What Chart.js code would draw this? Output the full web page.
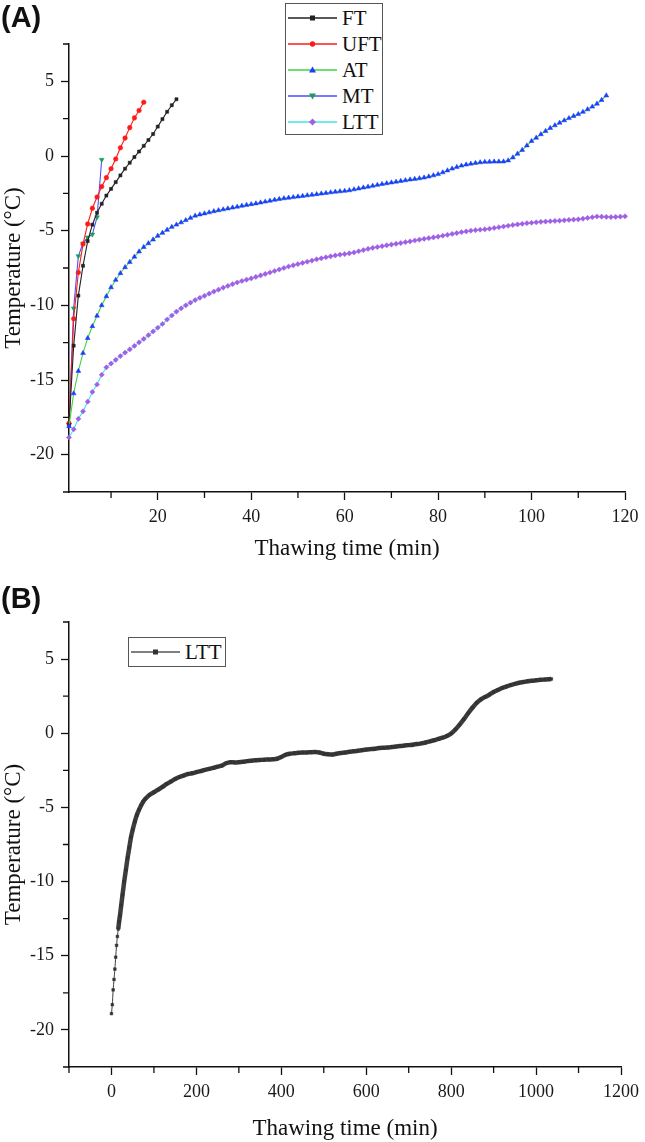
<!DOCTYPE html>
<html><head><meta charset="utf-8">
<script src="https://cdn.jsdelivr.net/npm/chart.js@4.4.1/dist/chart.umd.min.js"></script>
<style>
html,body{margin:0;padding:0;background:#fff;}
#wrap{position:relative;width:645px;height:1142px;overflow:hidden;background:#fff;}
.panel{position:absolute;left:0;}
.plabel{position:absolute;left:1px;font-family:'Liberation Sans',Arial,sans-serif;font-weight:bold;font-size:29px;line-height:1;color:#111;}
.legend{position:absolute;border:1px solid #555;background:#fff;font-family:'Liberation Serif','Times New Roman',serif;font-size:21px;color:#111;box-sizing:border-box;}
.legend .row{position:absolute;left:0;height:26px;display:flex;align-items:center;white-space:nowrap;}
.legend svg{display:block;margin-left:2px;margin-right:5px;}
</style>
</head>
<body>
<div id="wrap">
  <div class="panel" style="top:0;width:645px;height:570px;"><canvas id="cA" width="645" height="570"></canvas></div>
  <div class="panel" style="top:570px;width:645px;height:572px;"><canvas id="cB" width="645" height="572"></canvas></div>
  <div class="plabel" style="top:3px;">(A)</div>
  <div class="plabel" style="top:584px;">(B)</div>
  <div class="legend" id="legA" style="left:285px;top:3px;width:98px;height:132px;"></div>
  <div class="legend" id="legB" style="left:128px;top:637px;width:98px;height:30px;"></div>
</div>
<script>
// ---------------- DATA ----------------
// Panel A: temperatures sampled once per minute, starting at minute 1
const ftTemp  = [-18.0,-12.7,-9.35,-7.35,-5.7,-4.6,-3.8,-3.2,-2.65,-2.2,-1.75,-1.3,-0.85,-0.45,-0.07,0.3,0.68,1.07,1.47,1.97,2.47,2.96,3.4,3.8];
const uftTemp = [-17.9,-10.9,-7.8,-5.9,-4.55,-3.5,-2.75,-2.05,-1.45,-0.85,-0.2,0.55,1.2,1.9,2.55,3.05,3.6];
const atTemp  = [-18.1,-15.9,-14.4,-13.2,-12.2,-11.4,-10.7,-10.0,-9.4,-8.8,
  -8.3,-7.85,-7.45,-7.1,-6.75,-6.4,-6.1,-5.85,-5.6,-5.35,
  -5.15,-4.95,-4.75,-4.6,-4.45,-4.3,-4.15,-4.0,-3.92,-3.85,
  -3.78,-3.7,-3.64,-3.58,-3.52,-3.46,-3.4,-3.34,-3.28,-3.23,
  -3.18,-3.12,-3.06,-3.0,-2.94,-2.89,-2.84,-2.8,-2.76,-2.72,
  -2.68,-2.64,-2.6,-2.56,-2.52,-2.48,-2.44,-2.4,-2.37,-2.34,
  -2.3,-2.24,-2.18,-2.12,-2.06,-2.0,-1.94,-1.88,-1.83,-1.78,
  -1.73,-1.68,-1.63,-1.58,-1.54,-1.5,-1.45,-1.38,-1.3,-1.22,
  -1.1,-0.97,-0.85,-0.74,-0.65,-0.58,-0.52,-0.47,-0.43,-0.4,
  -0.39,-0.38,-0.38,-0.37,-0.3,-0.1,0.15,0.4,0.7,1.0,
  1.22,1.45,1.67,1.87,2.05,2.22,2.38,2.53,2.67,2.8,
  2.95,3.12,3.3,3.5,3.75,4.05];
const mtTemp  = [-18.0,-10.2,-6.7,-5.85,-5.45,-5.25,-4.1,-0.25];
const lttTemp = [-18.85,-18.3,-17.6,-17.1,-16.45,-15.8,-15.3,-14.65,-14.15,-13.9,
  -13.65,-13.4,-13.17,-12.95,-12.72,-12.48,-12.25,-12.0,-11.75,-11.5,
  -11.25,-10.95,-10.68,-10.42,-10.2,-10.0,-9.82,-9.65,-9.5,-9.36,
  -9.22,-9.08,-8.95,-8.82,-8.7,-8.58,-8.47,-8.37,-8.28,-8.2,
  -8.1,-8.0,-7.9,-7.8,-7.7,-7.6,-7.5,-7.4,-7.32,-7.24,
  -7.16,-7.08,-7.0,-6.92,-6.85,-6.78,-6.72,-6.66,-6.61,-6.57,
  -6.52,-6.46,-6.38,-6.3,-6.22,-6.15,-6.1,-6.04,-5.98,-5.93,
  -5.88,-5.83,-5.77,-5.72,-5.66,-5.6,-5.55,-5.5,-5.45,-5.4,
  -5.34,-5.28,-5.22,-5.16,-5.1,-5.05,-5.0,-4.97,-4.94,-4.91,
  -4.87,-4.82,-4.77,-4.72,-4.67,-4.62,-4.58,-4.54,-4.5,-4.47,
  -4.44,-4.41,-4.39,-4.37,-4.35,-4.33,-4.31,-4.28,-4.26,-4.24,
  -4.2,-4.15,-4.1,-4.05,-4.06,-4.08,-4.09,-4.08,-4.06,-4.04];

// Panel B: long LTT run
const lttLongTime = [0,2,4,6,8,10,12,14,16,18,20,23,26,30,34,38,42,46,50,55,60,65,70,75,80,90,100,110,120,130,140,150,160,170,180,190,200,210,220,230,240,250,260,270,280,290,300,310,320,330,340,350,360,370,380,390,400,410,420,430,440,450,460,470,480,490,500,510,520,530,540,550,560,570,580,590,600,610,620,630,640,650,660,670,680,690,700,710,720,730,740,750,760,770,780,790,800,810,820,830,840,850,860,870,880,890,900,910,920,930,940,950,960,970,980,990,1000,1010,1020,1030,1036];
const lttLongTemp = [-18.9,-18.3,-17.3,-16.6,-15.9,-15.1,-14.3,-13.7,-13.2,-12.7,-12.3,-11.6,-10.9,-10.0,-9.2,-8.4,-7.7,-7.0,-6.5,-5.95,-5.5,-5.15,-4.85,-4.6,-4.42,-4.15,-3.98,-3.8,-3.62,-3.42,-3.25,-3.08,-2.95,-2.85,-2.75,-2.7,-2.62,-2.55,-2.47,-2.4,-2.33,-2.25,-2.18,-2.02,-1.95,-1.97,-1.95,-1.92,-1.88,-1.85,-1.82,-1.8,-1.78,-1.77,-1.75,-1.72,-1.6,-1.45,-1.38,-1.35,-1.32,-1.3,-1.3,-1.28,-1.27,-1.3,-1.38,-1.42,-1.44,-1.38,-1.33,-1.3,-1.25,-1.22,-1.18,-1.14,-1.1,-1.07,-1.04,-1.0,-0.98,-0.96,-0.93,-0.9,-0.86,-0.83,-0.8,-0.77,-0.73,-0.68,-0.62,-0.55,-0.47,-0.38,-0.3,-0.18,-0.02,0.25,0.58,0.95,1.35,1.72,2.05,2.28,2.45,2.6,2.78,2.92,3.05,3.15,3.25,3.33,3.4,3.45,3.5,3.54,3.57,3.6,3.62,3.64,3.66];

// Tick values
const yTicks = [5,0,-5,-10,-15,-20];
const yMinorTicks = [7.5,2.5,-2.5,-7.5,-12.5,-17.5,-22.5];
const xTicksA = [20,40,60,80,100,120];
const xMinorTicksA = [10,30,50,70,90,110];
const xTicksB = [0,200,400,600,800,1000,1200];
const xMinorTicksB = [-100,100,300,500,700,900,1100];

// ---------------- HELPERS ----------------
const SERIF = "'Liberation Serif','Times New Roman',serif";
const perMinute = arr => arr.map((v, i) => ({x: i + 1, y: v}));
const paired = (xs, ys) => xs.map((x, i) => ({x: x, y: ys[i]}));

const minorTickPlugin = {
  id: 'minorTicks',
  afterDraw(chart, args, opts) {
    const ctx = chart.ctx, xs = chart.scales.x, ys = chart.scales.y;
    ctx.save();
    ctx.strokeStyle = '#111';
    ctx.lineWidth = 1.3;
    ctx.beginPath();
    (opts.x || []).forEach(v => {
      const px = xs.getPixelForValue(v);
      ctx.moveTo(px, xs.top); ctx.lineTo(px, xs.top + opts.len);
    });
    (opts.y || []).forEach(v => {
      const py = ys.getPixelForValue(v);
      ctx.moveTo(ys.right, py); ctx.lineTo(ys.right - opts.len, py);
    });
    ctx.stroke();
    ctx.restore();
  }
};

function axisX(min, max, ticks, height, titlePad) {
  return {
    type: 'linear', min: min, max: max,
    afterBuildTicks: s => { s.ticks = ticks.map(v => ({value: v})); },
    afterFit: s => { s.height = height; },
    border: {display: true, color: '#111', width: 1.5},
    grid: {display: true, drawOnChartArea: false, drawTicks: true, tickLength: 8, tickColor: '#111', tickWidth: 1.3},
    ticks: {font: {family: SERIF, size: 18}, color: '#1a1a1a', padding: 6, maxRotation: 0, autoSkip: false, callback: v => String(v)},
    title: {display: true, text: 'Thawing time (min)', font: {family: SERIF, size: 23, lineHeight: 1}, color: '#111', padding: {top: 0, bottom: titlePad}}
  };
}
function axisY() {
  return {
    type: 'linear', min: -22.5, max: 7.5,
    afterBuildTicks: s => { s.ticks = yTicks.map(v => ({value: v})); },
    afterFit: s => { s.width = 69; },
    border: {display: true, color: '#111', width: 1.5},
    grid: {display: true, drawOnChartArea: false, drawTicks: true, tickLength: 8, tickColor: '#111', tickWidth: 1.3},
    ticks: {font: {family: SERIF, size: 18}, color: '#1a1a1a', padding: 7, autoSkip: false, callback: v => String(v)},
    title: {display: true, text: 'Temperature (°C)', font: {family: SERIF, size: 23, lineHeight: 1}, color: '#111', padding: {top: 2, bottom: 0}}
  };
}
function series(label, data, line, mark, style, rot, r) {
  return {
    label: label, data: data, borderColor: line, borderWidth: 1.1,
    pointStyle: style, pointRotation: rot || 0, pointRadius: r, pointHoverRadius: r,
    pointBackgroundColor: mark, pointBorderColor: mark, pointBorderWidth: 0.5,
    tension: 0, fill: false, clip: false
  };
}

// ---------------- CHART A ----------------
new Chart(document.getElementById('cA'), {
  type: 'line',
  data: {datasets: [
    series('LTT', perMinute(lttTemp), '#3fe6ee', '#a25ee4', 'rectRot', 0, 2.6),
    series('AT', perMinute(atTemp), '#3fd43f', '#1b3dff', 'triangle', 0, 2.8),
    series('FT', perMinute(ftTemp), '#222222', '#222222', 'rect', 0, 2.2),
    series('UFT', perMinute(uftTemp), '#ff1a1a', '#ff1a1a', 'circle', 0, 2.3),
    series('MT', perMinute(mtTemp), '#4d4dff', '#1a9e5a', 'triangle', 180, 2.8)
  ]},
  options: {
    responsive: false, animation: false, events: [],
    layout: {padding: {top: 44, right: 20, left: 0, bottom: 0}},
    plugins: {legend: {display: false}, tooltip: {enabled: false},
      minorTicks: {x: xMinorTicksA, y: yMinorTicks, len: 6}},
    scales: {x: axisX(1, 120, xTicksA, 78, 10), y: axisY()}
  },
  plugins: [minorTickPlugin]
});

// ---------------- CHART B ----------------
new Chart(document.getElementById('cB'), {
  type: 'line',
  data: {datasets: [{
    label: 'LTT', data: paired(lttLongTime, lttLongTemp),
    borderColor: '#3d3d3d', borderWidth: 4,
    segment: {borderWidth: ctx => ctx.p1.parsed.x <= 16 ? 1 : 4.5},
    pointStyle: 'rect', pointRadius: 1.9, pointHoverRadius: 1.9,
    pointBackgroundColor: '#333', pointBorderColor: '#333', pointBorderWidth: 0.5,
    tension: 0.2, fill: false, clip: false
  }]},
  options: {
    responsive: false, animation: false, events: [],
    layout: {padding: {top: 52, right: 20, left: 0, bottom: 0}},
    plugins: {legend: {display: false}, tooltip: {enabled: false},
      minorTicks: {x: xMinorTicksB, y: yMinorTicks, len: 6}},
    scales: {x: axisX(-100, 1200, xTicksB, 75, 2), y: axisY()}
  },
  plugins: [minorTickPlugin]
});

// ---------------- HTML LEGENDS ----------------
function markerSvg(line, mark, shape) {
  let m = '';
  if (shape === 'rect') m = `<rect x="22" y="3.5" width="5" height="5" fill="${mark}"/>`;
  else if (shape === 'circle') m = `<circle cx="24.5" cy="6" r="2.7" fill="${mark}"/>`;
  else if (shape === 'tri') m = `<polygon points="24.5,2.5 28,8.5 21,8.5" fill="${mark}"/>`;
  else if (shape === 'tridown') m = `<polygon points="21,3.5 28,3.5 24.5,9.5" fill="${mark}"/>`;
  else if (shape === 'diamond') m = `<polygon points="24.5,2.5 28,6 24.5,9.5 21,6" fill="${mark}"/>`;
  return `<svg width="49" height="12" viewBox="0 0 49 12"><line x1="0" y1="6" x2="49" y2="6" stroke="${line}" stroke-width="1.4"/>${m}</svg>`;
}
const legA = [
  ['FT', '#222222', '#222222', 'rect'],
  ['UFT', '#ff1a1a', '#ff1a1a', 'circle'],
  ['AT', '#3fd43f', '#1b3dff', 'tri'],
  ['MT', '#4d4dff', '#1a9e5a', 'tridown'],
  ['LTT', '#3fe6ee', '#a25ee4', 'diamond']
];
const boxA = document.getElementById('legA');
legA.forEach((e, i) => {
  const row = document.createElement('div');
  row.className = 'row';
  row.style.top = (1 + i * 26) + 'px';
  row.innerHTML = markerSvg(e[1], e[2], e[3]) + `<span>${e[0]}</span>`;
  boxA.appendChild(row);
});
const boxB = document.getElementById('legB');
const rowB = document.createElement('div');
rowB.className = 'row';
rowB.style.top = '1px';
rowB.innerHTML = markerSvg('#555', '#333', 'rect') + '<span>LTT</span>';
boxB.appendChild(rowB);
</script>
</body></html>
